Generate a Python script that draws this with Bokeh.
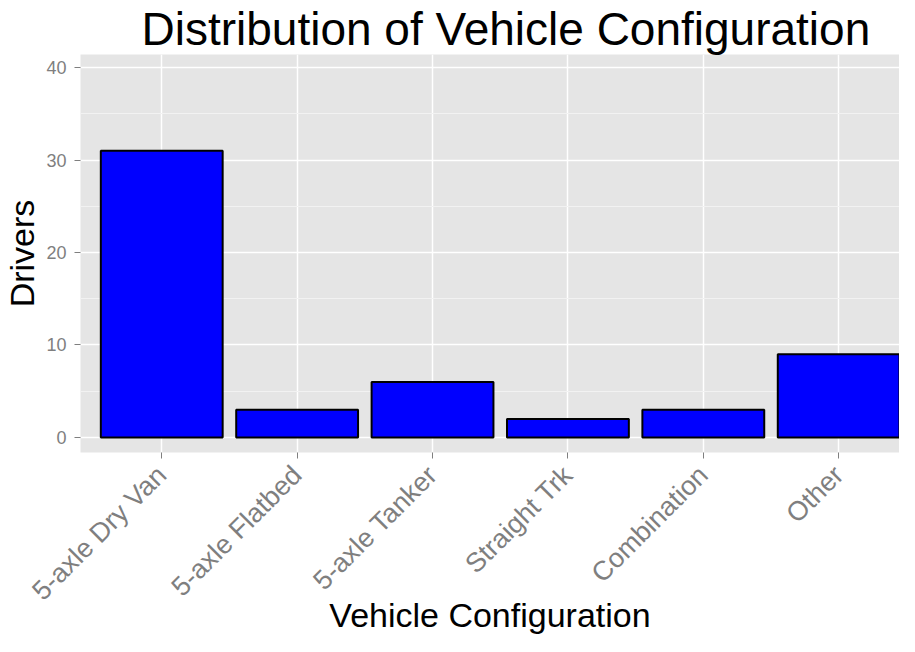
import math
from bokeh.plotting import figure
from bokeh.models import Range1d, FixedTicker
from bokeh.embed import file_html
from bokeh.resources import INLINE

categories = ["5-axle Dry Van", "5-axle Flatbed", "5-axle Tanker", "Straight Trk", "Combination", "Other"]
drivers = [31, 3, 6, 2, 3, 9]
y_ticks = [0, 10, 20, 30, 40]
y_minor = [5, 15, 25, 35]

xs = list(range(len(categories)))

p = figure(width=899, height=636, output_backend="svg", toolbar_location=None,
           x_range=Range1d(-0.6, 5.449), y_range=Range1d(-1.63, 41.41),
           min_border_left=71, min_border_right=0, min_border_top=0, min_border_bottom=0)

p.title.text = "Distribution of Vehicle Configuration"
p.title.text_font = "Liberation Sans"
p.title.text_font_size = "46px"
p.title.text_font_style = "normal"
p.title.text_color = "black"
p.title.align = "left"
p.title.offset = 61
p.title.standoff = 0

p.background_fill_color = "#E5E5E5"
p.border_fill_color = "white"
p.outline_line_color = None

p.vbar(x=xs, top=drivers, bottom=0, width=0.9, fill_color="#0000FF", line_color="black", line_width=2)

p.xaxis.ticker = FixedTicker(ticks=xs)
p.xaxis.major_label_overrides = {i: c for i, c in enumerate(categories)}
p.xaxis.major_label_orientation = math.pi / 4
p.yaxis.ticker = FixedTicker(ticks=y_ticks, minor_ticks=y_minor)

for ax in (p.xaxis, p.yaxis):
    ax.axis_line_color = None
    ax.major_tick_line_color = "#7F7F7F"
    ax.major_tick_out = 6
    ax.major_tick_in = 0
    ax.minor_tick_out = 0
    ax.minor_tick_in = 0
    ax.major_label_text_color = "#7F7F7F"
    ax.major_label_text_font = "Liberation Sans"
    ax.axis_label_text_font = "Liberation Sans"
    ax.axis_label_text_font_style = "normal"
    ax.axis_label_text_color = "black"
    ax.axis_label_text_font_size = "34px"

p.xaxis.major_label_text_font_size = "27px"
p.yaxis.major_label_text_font_size = "18px"
p.xaxis.axis_label = "Vehicle Configuration"
p.yaxis.axis_label = "Drivers"
p.xaxis.axis_label_standoff = -24
p.yaxis.axis_label_standoff = 2
p.xaxis.major_label_standoff = 12
p.yaxis.major_label_standoff = 8

p.xgrid.grid_line_color = "white"
p.xgrid.grid_line_width = 1.5
p.ygrid.grid_line_color = "white"
p.ygrid.grid_line_width = 1.5
p.ygrid.minor_grid_line_color = "#F2F2F2"
p.ygrid.minor_grid_line_width = 1

open("out.html", "w").write(file_html(p, INLINE))
